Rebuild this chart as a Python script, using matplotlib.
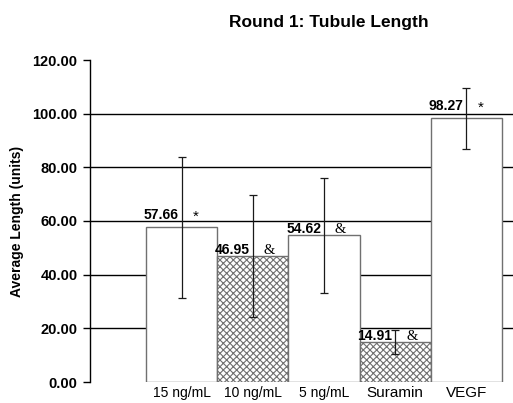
import numpy as np
import matplotlib.pyplot as plt

# values
groups = ['15 ng/mL', '10 ng/mL', '5 ng/mL', 'Suramin', 'VEGF']
means = [57.66, 46.95, 54.62, 14.91, 98.27]
errs = [26.2, 22.7, 21.4, 4.6, 11.3]
marks = ['*', '&', '&', '&', '*']
hatched = [False, True, False, True, False]
yticks = [0, 20, 40, 60, 80, 100, 120]

plt.rcParams['font.family'] = ['Liberation Sans', 'DejaVu Sans']
plt.rcParams['hatch.linewidth'] = 0.8

fig = plt.figure(figsize=(5.13, 4.03), dpi=100)
ax = fig.add_axes([90/513, 21/403, 423/513, 322/403])

x = np.arange(len(groups))

# gridlines behind the bars, none at the top tick
for v in yticks[1:-1]:
    ax.axhline(v, color='black', lw=1.0, zorder=0)

bars = ax.bar(x, means, width=1.0, color='white', edgecolor='#707070',
              lw=1.0, zorder=2)
for b, h in zip(bars, hatched):
    if h:
        b.set_hatch('xxxxx')

ax.errorbar(x, means, yerr=errs, fmt='none', ecolor='#1a1a1a', elinewidth=0.9,
            capsize=3, capthick=0.9, zorder=3)

for i in range(len(groups)):
    # the '*' bars have their labels lifted a bit higher
    dy = 6 if marks[i] == '*' else 1.5
    ax.annotate(f'{means[i]:.2f}', (x[i], means[i]), xytext=(-2, dy),
                textcoords='offset points', ha='right', va='baseline',
                fontsize=10, fontweight='bold', zorder=4)
    if marks[i] == '&':
        ax.annotate('&', (x[i], means[i]), xytext=(12, 1.5),
                    textcoords='offset points', ha='center', va='baseline',
                    fontsize=10.5, family=['Liberation Serif', 'DejaVu Serif'],
                    zorder=4)
    else:
        ax.annotate('*', (x[i], means[i]), xytext=(10, 5),
                    textcoords='offset points', ha='center', va='baseline',
                    fontsize=11, zorder=4)

ax.set_xlim(-1.286, 4.654)
ax.set_ylim(0, 120)
ax.set_yticks(yticks)
ax.set_yticklabels([f'{v:.2f}' for v in yticks], fontsize=10.5,
                   fontweight='bold')
ax.tick_params(axis='y', direction='out', length=5, width=1, pad=4)

ax.set_xticks(x)
ax.set_xticklabels(groups, fontsize=10)
ax.tick_params(axis='x', length=0, pad=3)
for lab in ax.get_xticklabels():
    if 'ng' not in lab.get_text():
        lab.set_fontsize(11)

for s in ['top', 'right', 'bottom']:
    ax.spines[s].set_visible(False)
ax.spines['left'].set_linewidth(1.0)

ax.set_ylabel('Average Length (units)', fontsize=10, fontweight='bold',
              labelpad=6)
fig.text(329/513, 1 - 23/403, 'Round 1: Tubule Length', ha='center',
         va='center', fontsize=12.5, fontweight='bold')

fig.savefig('out.png', dpi=100)
